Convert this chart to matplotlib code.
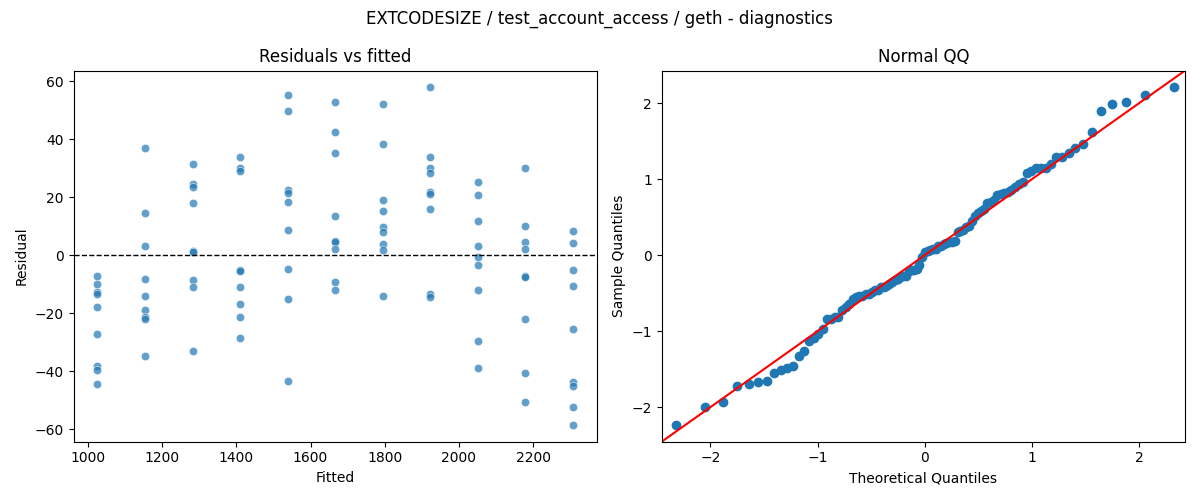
import numpy as np
import matplotlib
matplotlib.use("Agg")
import matplotlib.pyplot as plt
import seaborn as sns
from statistics import NormalDist

# fitted level of each group (11 levels, 9 runs each)
fitted_levels = [1025, 1153, 1282, 1410, 1538, 1666, 1795, 1923, 2051, 2179, 2308]

# residuals, one list per fitted level
resid_groups = [
    [-7.1, -9.9, -12.7, -13.4, -17.8, -27.0, -38.3, -39.6, -44.2],
    [37.1, 14.5, 3.2, -8.1, -14.1, -18.8, -21.3, -22.0, -34.6],
    [31.3, 24.5, 23.4, 17.9, 1.6, 1.3, -8.6, -11.0, -33.0],
    [34.0, 30.0, 29.2, -5.0, -5.4, -11.0, -16.8, -21.2, -28.4],
    [55.3, 49.8, 22.5, 21.3, 18.2, 8.6, -4.7, -15.1, -43.2],
    [52.7, 42.3, 35.1, 13.4, 4.9, 4.5, 2.1, -9.3, -12.0],
    [52.2, 38.3, 19.0, 15.1, 9.9, 8.0, 3.9, 1.7, -14.1],
    [57.8, 33.7, 30.1, 28.2, 21.8, 21.1, 15.9, -13.5, -14.4],
    [25.1, 20.6, 11.7, 3.1, -0.7, -3.3, -12.0, -29.6, -38.8],
    [30.0, 10.0, 4.5, 2.1, -7.1, -7.4, -21.9, -40.4, -50.4],
    [8.2, 4.1, -5.2, -10.7, -25.4, -43.5, -44.9, -52.2, -58.4],
]

title = "EXTCODESIZE / test_account_access / geth - diagnostics"

fitted = np.concatenate([[f] * len(g) for f, g in zip(fitted_levels, resid_groups)])
resid = np.concatenate([np.array(g) for g in resid_groups])

# QQ: standardized residuals against normal quantiles, positions i/(n+1)
n = len(resid)
sample_q = np.sort((resid - resid.mean()) / resid.std())
theo_q = np.array([NormalDist().inv_cdf(i / (n + 1)) for i in range(1, n + 1)])

fig, (ax1, ax2) = plt.subplots(1, 2, figsize=(12, 5), dpi=100)

sns.scatterplot(x=fitted, y=resid, ax=ax1, alpha=0.7)
ax1.axhline(0, color="black", linestyle="--", linewidth=1)
ax1.set_title("Residuals vs fitted")
ax1.set_xlabel("Fitted")
ax1.set_ylabel("Residual")

ax2.plot(theo_q, sample_q, "o", color="C0")
lo, hi = ax2.get_ylim()
ax2.plot([lo, hi], [lo, hi], "r-")
ax2.set_xlim(lo, hi)
ax2.set_ylim(lo, hi)
ax2.set_title("Normal QQ")
ax2.set_xlabel("Theoretical Quantiles")
ax2.set_ylabel("Sample Quantiles")

fig.suptitle(title)
fig.tight_layout()
fig.savefig("out.png")
